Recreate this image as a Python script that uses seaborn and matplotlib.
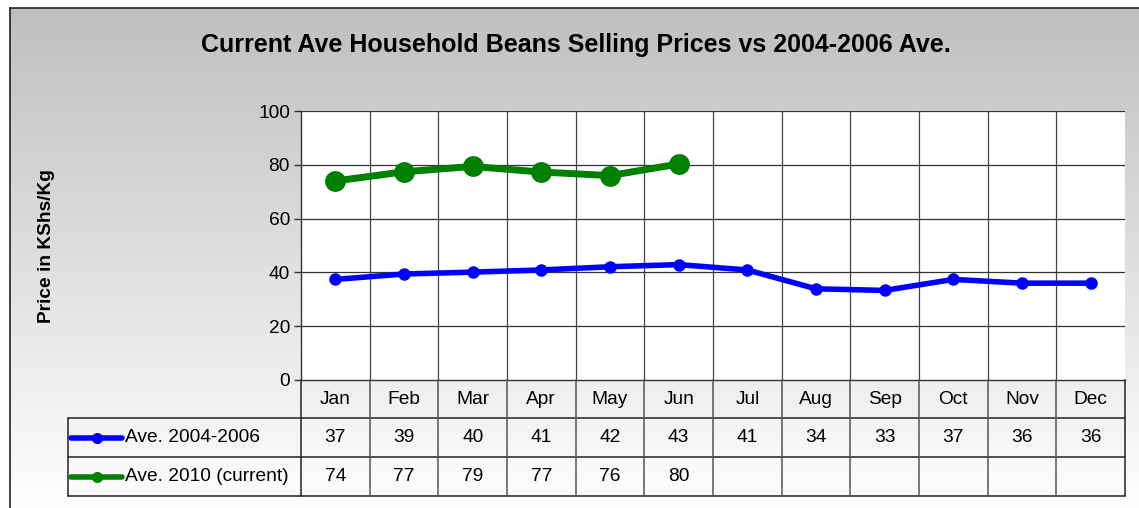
import numpy as np
import pandas as pd
import seaborn as sns
import matplotlib.pyplot as plt

# Chart data
months = ['Jan', 'Feb', 'Mar', 'Apr', 'May', 'Jun',
          'Jul', 'Aug', 'Sep', 'Oct', 'Nov', 'Dec']
avg_2004_2006 = [37.4, 39.4, 40.1, 40.9, 42.1, 42.9, 40.9, 33.9, 33.3, 37.4, 36.0, 36.0]
avg_2010 = [74.0, 77.4, 79.4, 77.3, 76.0, 80.3]
series_names = ['Ave. 2004-2006', 'Ave. 2010 (current)']
series_colors = ['#0000ff', '#008000']

W, H = 1139, 508
FS = 13.8  # text size used for ticks and the table


def fig_box(x0, y0, x1, y1):
    """Pixel box (top-left origin) -> figure fraction rect."""
    return [x0 / W, 1 - y1 / H, (x1 - x0) / W, (y1 - y0) / H]


sns.set_theme(style='white')
plt.rcParams['font.family'] = ['Liberation Sans', 'DejaVu Sans']
plt.rcParams['text.color'] = 'black'
plt.rcParams['ytick.color'] = 'black'

fig = plt.figure(figsize=(W / 100, H / 100), dpi=100)
fig.patch.set_facecolor('white')

# gradient background of the chart area
bg = fig.add_axes(fig_box(10, 8, W + 5, H + 5), zorder=-10)
grad = np.linspace(0.75, 1.0, 256).reshape(-1, 1)
bg.imshow(np.dstack([grad, grad, grad]), aspect='auto', extent=[0, 1, 0, 1],
          origin='upper', interpolation='bicubic')
bg.set_xlim(0, 1)
bg.set_ylim(0, 1)
bg.set_xticks([])
bg.set_yticks([])
for s in bg.spines.values():
    s.set_color('#222222')
    s.set_linewidth(1.2)

# main plot
left, right, top, bottom = 301, 1125, 111, 380
ax = fig.add_axes(fig_box(left, top, right, bottom))
ax.set_facecolor('white')

n = len(months)
df = pd.DataFrame({
    'x': np.arange(n),
    series_names[0]: avg_2004_2006,
    series_names[1]: avg_2010 + [np.nan] * (n - len(avg_2010)),
})

sns.lineplot(data=df, x='x', y=series_names[0], ax=ax, color=series_colors[0],
             linewidth=4, marker='o', markersize=9, markeredgewidth=0, zorder=4)
sns.lineplot(data=df.dropna(), x='x', y=series_names[1], ax=ax, color=series_colors[1],
             linewidth=5, marker='o', markersize=15, markeredgewidth=0, zorder=4)

ax.set_xlim(-0.5, n - 0.5)
ax.set_ylim(0, 100)
ax.set_yticks(range(0, 101, 20))
ax.set_xticks([])
ax.set_xlabel('')
ax.set_ylabel('')
ax.tick_params(axis='y', direction='out', length=5, width=1, color='#333333',
               labelcolor='black', labelsize=FS, pad=3, left=True)
for y in range(20, 101, 20):
    ax.axhline(y, color='#333333', linewidth=0.9, zorder=1)
for b in np.arange(0.5, n - 0.5, 1):
    ax.axvline(b, color='#444444', linewidth=0.9, zorder=1)
for name, s in ax.spines.items():
    s.set_color('#333333')
    s.set_linewidth(1.0)
    s.set_visible(name in ('left', 'bottom'))

# data table beneath the plot
tleft, tbottom = 68, 496
col_w = (right - left) / n
leg_w = (left - tleft) / col_w
tab = fig.add_axes(fig_box(tleft, bottom, right, tbottom))
tab.set_xlim(-0.5 - leg_w, n - 0.5)
tab.set_ylim(tbottom - bottom, 0)
tab.axis('off')
tab.patch.set_alpha(0)

row_y = [0, 38, 77, 116]
lc = '#222222'
# horizontal rules
for y in row_y[1:]:
    tab.plot([-0.5 - leg_w, n - 0.5], [y, y], color=lc, linewidth=1.1, clip_on=False)
# vertical rules
for k in range(n + 1):
    tab.plot([-0.5 + k, -0.5 + k], [0, row_y[-1]], color='#555555' if 0 < k < n else lc,
             linewidth=1.1, clip_on=False)
tab.plot([-0.5 - leg_w] * 2, [row_y[1], row_y[-1]], color=lc, linewidth=1.1, clip_on=False)

# month header
for i, m in enumerate(months):
    tab.text(i, (row_y[0] + row_y[1]) / 2, m, ha='center', va='center', fontsize=FS)

# series rows
rows = [avg_2004_2006, avg_2010]
for r, (name, color, vals) in enumerate(zip(series_names, series_colors, rows)):
    yc = (row_y[r + 1] + row_y[r + 2]) / 2
    x0 = -0.5 - leg_w + 3 / col_w
    x1 = -0.5 - leg_w + 54 / col_w
    tab.plot([x0, x1], [yc, yc], color=color, linewidth=4, solid_capstyle='round')
    tab.plot([(x0 + x1) / 2], [yc], 'o', color=color, markersize=7)
    tab.text(-0.5 - leg_w + 57 / col_w, yc, name, ha='left', va='center', fontsize=FS)
    for i, v in enumerate(vals):
        tab.text(i, yc, f'{v:.0f}', ha='center', va='center', fontsize=FS)

# titles
fig.text(576 / W, 1 - 45 / H, 'Current Ave Household Beans Selling Prices vs 2004-2006 Ave.',
         ha='center', va='center', fontsize=18, fontweight='bold')
fig.text(47 / W, 1 - 246 / H, 'Price in KShs/Kg', ha='center', va='center',
         rotation=90, fontsize=13.8, fontweight='bold')

fig.savefig('out.png', dpi=100)
